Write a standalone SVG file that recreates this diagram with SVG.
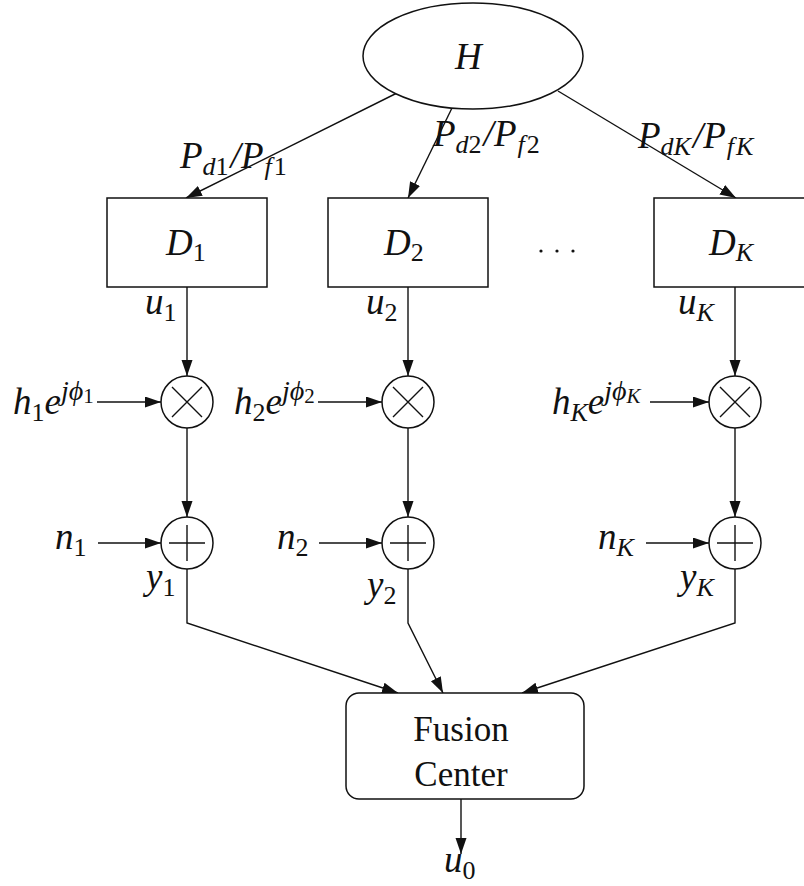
<svg xmlns="http://www.w3.org/2000/svg" width="804" height="886" viewBox="0 0 804 886">
<style>
.ln{fill:none;stroke:#111;stroke-width:1.4}
.arr{fill:none;stroke:#111;stroke-width:1.4;marker-end:url(#ah)}
.shape{fill:#fff;stroke:#111;stroke-width:1.5}
.m{font-family:"Liberation Serif","DejaVu Serif",serif;font-style:italic;font-size:37px;fill:#111}
.s{font-size:26px;font-style:normal}
.si{font-size:26px;font-style:italic}
.sup{font-size:28px;font-style:italic}
.ss{font-size:21px;font-style:normal}
.ssi{font-size:21px;font-style:italic}
.t{font-family:"Liberation Serif","DejaVu Serif",serif;font-size:35px;fill:#111}
</style>
<defs>
<marker id="ah" markerUnits="userSpaceOnUse" markerWidth="17" markerHeight="12" refX="16" refY="5.5" orient="auto">
<path d="M0,0 L16,5.5 L0,11 z" fill="#111"/>
</marker>
</defs>
<g id="connectors">
<path class="arr" d="M397,93 L186,198"/>
<path class="arr" d="M452,108 L408,198"/>
<path class="arr" d="M558,91 L736,198"/>
<path class="arr" d="M187,287 L187,376"/>
<path class="arr" d="M187,428 L187,517"/>
<path class="arr" d="M187,569 L187,623 L398,693"/>
<path class="arr" d="M408,287 L408,376"/>
<path class="arr" d="M408,428 L408,517"/>
<path class="arr" d="M408,569 L408,623 L443,693"/>
<path class="arr" d="M735,287 L735,376"/>
<path class="arr" d="M735,428 L735,517"/>
<path class="arr" d="M735,569 L735,623 L522,693"/>
<path class="arr" d="M461,799 L461,854"/>
<path class="arr" d="M97,402 L161,402"/>
<path class="arr" d="M98,543 L161,543"/>
<path class="arr" d="M318,402 L382,402"/>
<path class="arr" d="M319,543 L382,543"/>
<path class="arr" d="M650,402 L709,402"/>
<path class="arr" d="M646,543 L709,543"/>
</g>
<g id="H">
<ellipse class="shape" cx="473" cy="56" rx="110" ry="53"/>
<text class="m" x="455" y="69">H</text>
</g>
<g id="D1">
<rect class="shape" x="107" y="198" width="160" height="89"/>
<text class="m" x="166" y="255">D<tspan class="s" dy="6">1</tspan></text>
</g>
<g id="D2">
<rect class="shape" x="328" y="198" width="160" height="89"/>
<text class="m" x="384" y="255">D<tspan class="s" dy="6">2</tspan></text>
</g>
<g id="DK">
<rect class="shape" x="654" y="198" width="170" height="89"/>
<text class="m" x="709" y="255">D<tspan class="si" dy="6">K</tspan></text>
</g>
<g id="dots">
<circle cx="541" cy="251" r="1.6" fill="#111"/>
<circle cx="557" cy="251" r="1.6" fill="#111"/>
<circle cx="573" cy="251" r="1.6" fill="#111"/>
</g>
<g id="labels">
<text class="m" x="180" y="168">P<tspan class="si" dy="7">d</tspan><tspan class="s">1</tspan><tspan dx="2" dy="-7">/P</tspan><tspan class="si" dx="1" dy="7">f</tspan><tspan class="s" dx="2">1</tspan></text>
<text class="m" x="433" y="146">P<tspan class="si" dy="7">d</tspan><tspan class="s">2</tspan><tspan dx="2" dy="-7">/P</tspan><tspan class="si" dx="1" dy="7">f</tspan><tspan class="s" dx="2">2</tspan></text>
<text class="m" x="638" y="148">P<tspan class="si" dy="7">dK</tspan><tspan dx="2" dy="-7">/P</tspan><tspan class="si" dx="1" dy="7">f</tspan><tspan class="si" dx="2">K</tspan></text>
<text class="m" x="145" y="314">u<tspan class="s" dy="7">1</tspan></text>
<text class="m" x="366" y="314">u<tspan class="s" dy="7">2</tspan></text>
<text class="m" x="678" y="314">u<tspan class="si" dy="7">K</tspan></text>
<text class="m" x="13" y="414">h<tspan class="s" dy="7">1</tspan><tspan dy="-7">e</tspan><tspan class="sup" dy="-14">jϕ</tspan><tspan class="ss" dy="3">1</tspan></text>
<text class="m" x="234" y="414">h<tspan class="s" dy="7">2</tspan><tspan dy="-7">e</tspan><tspan class="sup" dy="-14">jϕ</tspan><tspan class="ss" dy="3">2</tspan></text>
<text class="m" x="552" y="414">h<tspan class="si" dy="7">K</tspan><tspan dy="-7">e</tspan><tspan class="sup" dy="-14">jϕ</tspan><tspan class="ssi" dy="3">K</tspan></text>
<text class="m" x="55" y="549">n<tspan class="s" dy="7">1</tspan></text>
<text class="m" x="277" y="549">n<tspan class="s" dy="7">2</tspan></text>
<text class="m" x="598" y="549">n<tspan class="si" dy="7">K</tspan></text>
<text class="m" x="146" y="589">y<tspan class="s" dy="7">1</tspan></text>
<text class="m" x="367" y="597">y<tspan class="s" dy="7">2</tspan></text>
<text class="m" x="680" y="589">y<tspan class="si" dy="7">K</tspan></text>
<text class="m" x="444" y="872">u<tspan class="s" dy="7">0</tspan></text>
</g>
<g id="mult1"><circle class="shape" cx="187" cy="402" r="26"/><path class="ln" d="M172,387 L202,417 M202,387 L172,417"/></g>
<g id="mult2"><circle class="shape" cx="408" cy="402" r="26"/><path class="ln" d="M393,387 L423,417 M423,387 L393,417"/></g>
<g id="multK"><circle class="shape" cx="735" cy="402" r="26"/><path class="ln" d="M720,387 L750,417 M750,387 L720,417"/></g>
<g id="add1"><circle class="shape" cx="187" cy="543" r="26"/><path class="ln" d="M169,543 L205,543 M187,525 L187,561"/></g>
<g id="add2"><circle class="shape" cx="408" cy="543" r="26"/><path class="ln" d="M390,543 L426,543 M408,525 L408,561"/></g>
<g id="addK"><circle class="shape" cx="735" cy="543" r="26"/><path class="ln" d="M717,543 L753,543 M735,525 L735,561"/></g>
<g id="fusion">
<rect class="shape" x="346" y="693" width="238" height="106" rx="13"/>
<text class="t" x="461" y="741" text-anchor="middle">Fusion</text>
<text class="t" x="461" y="786" text-anchor="middle">Center</text>
</g>
</svg>
